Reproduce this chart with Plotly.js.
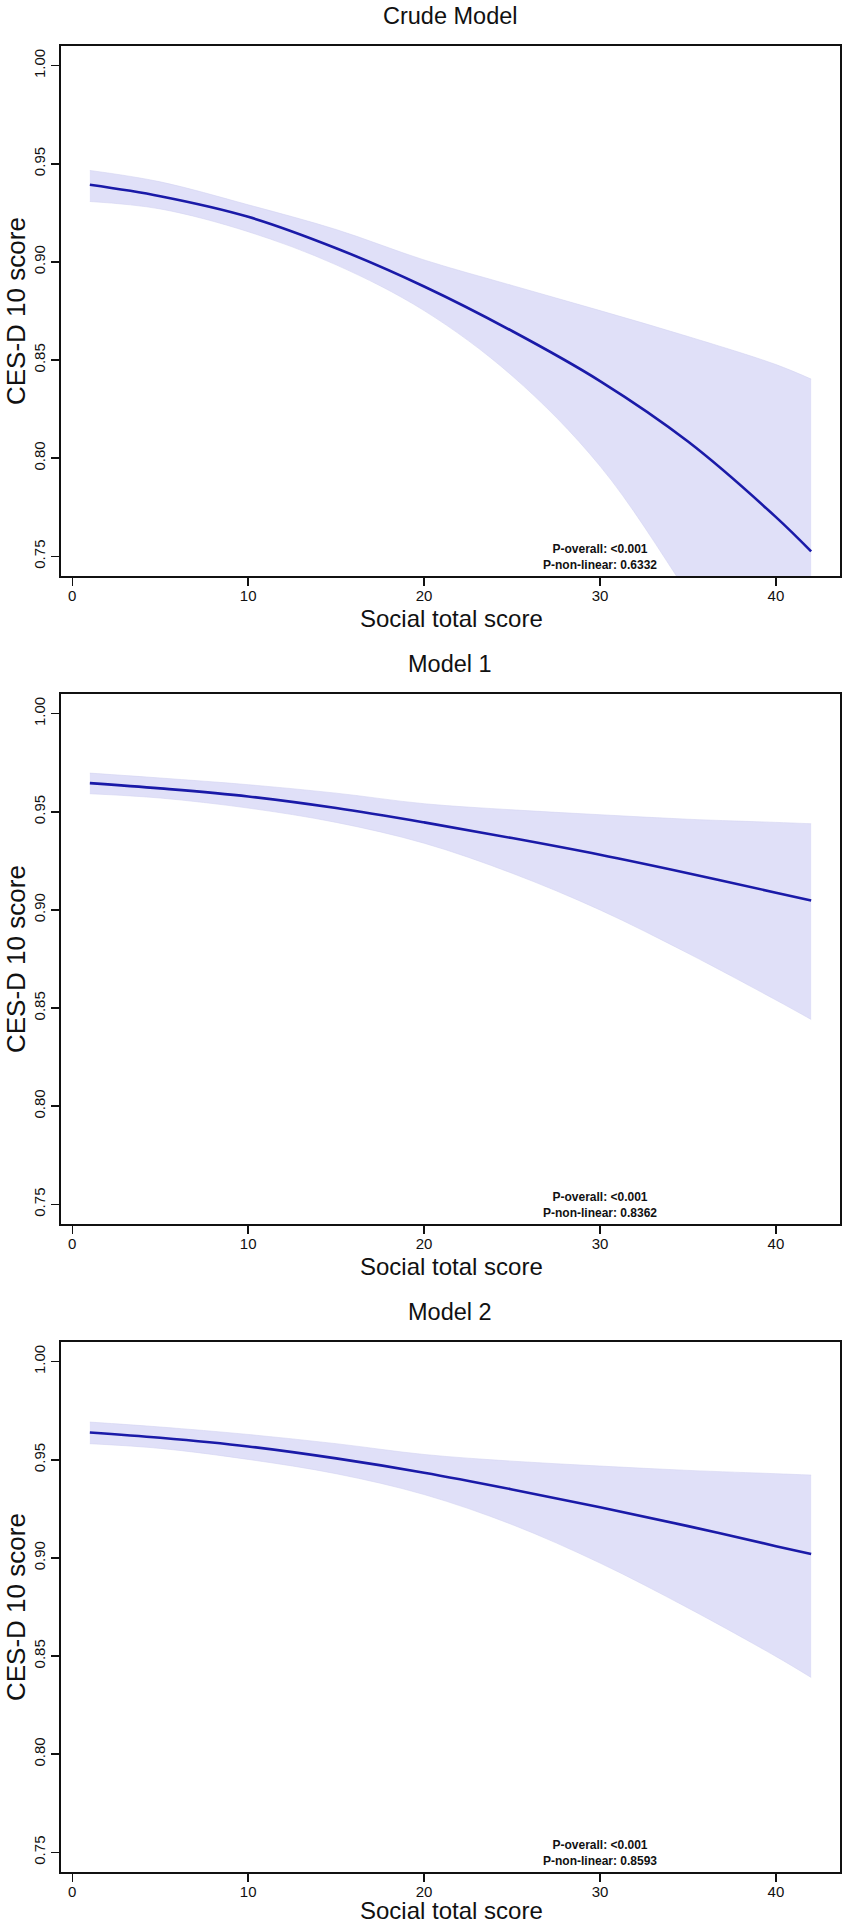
<!DOCTYPE html>
<html>
<head>
<meta charset="utf-8">
<script src="https://cdn.plot.ly/plotly-3.0.1.min.js"></script>
<style>
  html, body { margin: 0; padding: 0; background: #fff; }
  #chart { width: 850px; height: 1925px; }
</style>
</head>
<body>
<div id="chart"></div>
<script>
// social total score grid where curves were read
const score = [1, 5, 10, 15, 20, 25, 30, 35, 40, 42];

// Crude Model
const crudeFit   = [0.9393, 0.9335, 0.9230, 0.9070, 0.8875, 0.8648, 0.8393, 0.8085, 0.7700, 0.7525];
const crudeUpper = [0.9466, 0.9408, 0.9291, 0.9165, 0.9010, 0.8880, 0.8752, 0.8620, 0.8477, 0.8403];
const crudeLower = [0.9308, 0.9270, 0.9154, 0.8985, 0.8752, 0.8420, 0.7960, 0.7310, 0.6600, 0.6300];

// Model 1
const m1Fit   = [0.9646, 0.9619, 0.9578, 0.9519, 0.9446, 0.9366, 0.9281, 0.9187, 0.9088, 0.9048];
const m1Upper = [0.9697, 0.9672, 0.9638, 0.9595, 0.9541, 0.9510, 0.9485, 0.9462, 0.9446, 0.9439];
const m1Lower = [0.9592, 0.9570, 0.9519, 0.9446, 0.9340, 0.9187, 0.9000, 0.8779, 0.8541, 0.8442];

// Model 2
const m2Fit   = [0.9639, 0.9612, 0.9568, 0.9507, 0.9434, 0.9349, 0.9258, 0.9162, 0.9060, 0.9020];
const m2Upper = [0.9692, 0.9667, 0.9629, 0.9582, 0.9527, 0.9493, 0.9468, 0.9446, 0.9429, 0.9422];
const m2Lower = [0.9582, 0.9558, 0.9502, 0.9429, 0.9323, 0.9170, 0.8974, 0.8745, 0.8498, 0.8391];

const panelTitles = ["Crude Model", "Model 1", "Model 2"];
const pOverall = ["<0.001", "<0.001", "<0.001"];
const pNonLinear = ["0.6332", "0.8362", "0.8593"];
const xTicks = [0, 10, 20, 30, 40];
const yTicks = [0.75, 0.80, 0.85, 0.90, 0.95, 1.00];

const panels = [
  { fit: crudeFit, upper: crudeUpper, lower: crudeLower },
  { fit: m1Fit, upper: m1Upper, lower: m1Lower },
  { fit: m2Fit, upper: m2Upper, lower: m2Lower }
];

const W = 850, H = 1925;
const FONT = "Liberation Sans, Arial, Helvetica, sans-serif";
const bandFill = "#e0e0f8";
const lineCol = "#1a1aa8";

const traces = [];
const layout = {
  width: W, height: H,
  margin: { l: 0, r: 0, t: 0, b: 0 },
  paper_bgcolor: "#fff", plot_bgcolor: "#fff",
  showlegend: false,
  font: { family: FONT, color: "#111" },
  annotations: []
};

panels.forEach((p, i) => {
  const n = i === 0 ? "" : String(i + 1);
  const xa = "x" + n, ya = "y" + n;
  const top = 46 + 648 * i, bottom = top + 530;

  traces.push({
    x: score, y: p.lower, xaxis: xa, yaxis: ya, type: "scatter", mode: "lines",
    line: { color: "#d4d4f2", width: 0.6, shape: "spline" }, hoverinfo: "skip"
  });
  traces.push({
    x: score, y: p.upper, xaxis: xa, yaxis: ya, type: "scatter", mode: "lines",
    fill: "tonexty", fillcolor: bandFill,
    line: { color: "#d4d4f2", width: 0.6, shape: "spline" }, hoverinfo: "skip"
  });
  traces.push({
    x: score, y: p.fit, xaxis: xa, yaxis: ya, type: "scatter", mode: "lines",
    line: { color: lineCol, width: 2.6, shape: "spline" }
  });

  const axisCommon = {
    showline: true, mirror: true, linecolor: "#111", linewidth: 1.6,
    ticks: "outside", ticklen: 8, tickwidth: 1.5, tickcolor: "#111",
    showgrid: false, zeroline: false,
    tickfont: { family: FONT, size: 15, color: "#111" }
  };
  layout["xaxis" + n] = Object.assign({}, axisCommon, {
    domain: [61 / W, 840 / W], range: [-0.64, 43.64], anchor: ya,
    tickvals: xTicks, ticktext: xTicks.map(String), ticklabelstandoff: -3
  });
  layout["yaxis" + n] = Object.assign({}, axisCommon, {
    domain: [1 - bottom / H, 1 - top / H], range: [0.74, 1.01], anchor: xa,
    tickvals: yTicks, ticktext: yTicks.map(v => v.toFixed(2)), tickangle: -90
  });

  layout.annotations.push({
    text: panelTitles[i], xref: "paper", yref: "paper",
    x: 450 / W, y: 1 - (top - 30) / H, xanchor: "center", yanchor: "middle",
    showarrow: false, font: { family: FONT, size: 23.5, color: "#111" }
  });
  layout.annotations.push({
    text: "Social total score", xref: "paper", yref: "paper",
    x: 451 / W, y: 1 - Math.min(bottom + 42, H - 15) / H, xanchor: "center", yanchor: "middle",
    showarrow: false, font: { family: FONT, size: 24, color: "#111" }
  });
  layout.annotations.push({
    text: "CES-D 10 score", xref: "paper", yref: "paper", textangle: -90,
    x: 16 / W, y: 1 - (top + 265) / H, xanchor: "center", yanchor: "middle",
    showarrow: false, font: { family: FONT, size: 26, color: "#111" }
  });
  layout.annotations.push({
    text: "<b>P-overall: " + pOverall[i] + "</b><br><b>P-non-linear: " + pNonLinear[i] + "</b>",
    xref: xa, yref: ya, x: 30, y: 0.7495, xanchor: "center", yanchor: "middle",
    align: "center", showarrow: false,
    font: { family: FONT, size: 12, color: "#111" }
  });
});

Plotly.newPlot("chart", traces, layout, { staticPlot: true });
</script>
</body>
</html>
